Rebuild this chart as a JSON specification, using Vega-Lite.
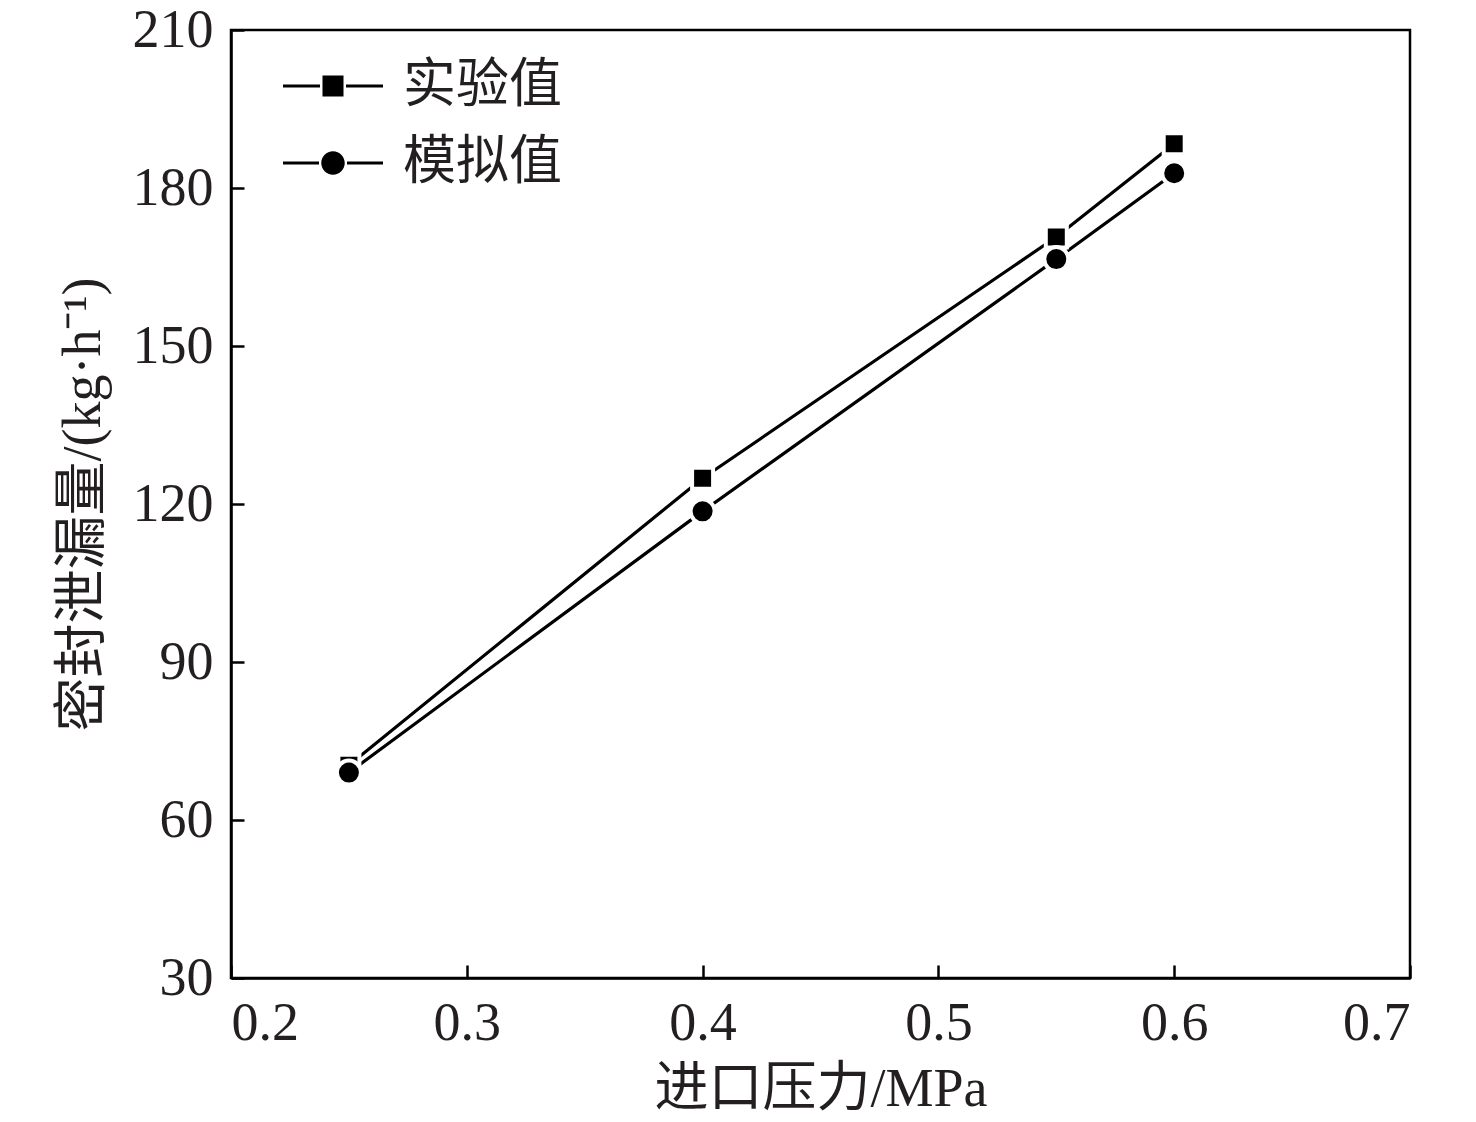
{
  "$schema": "https://vega.github.io/schema/vega-lite/v6.json",
  "width": 1179,
  "height": 948,
  "autosize": {"type": "none"},
  "padding": {"left": 231, "top": 30, "right": 66, "bottom": 144},
  "background": "white",
  "config": {
    "font": "Liberation Serif",
    "view": {"stroke": "black", "strokeWidth": 2.5},
    "axis": {
      "labelFont": "Liberation Serif",
      "titleFont": "Liberation Serif, Noto Sans CJK SC",
      "labelFontSize": 54,
      "titleFontSize": 54,
      "labelColor": "#231f20",
      "titleColor": "#231f20",
      "titleFontWeight": "normal",
      "domainColor": "black",
      "domainWidth": 2.5,
      "tickColor": "black",
      "tickWidth": 2.5,
      "tickSize": -13,
      "grid": false
    }
  },
  "data": {
    "values": [
      {"p": 0.25, "v": 70.4, "s": "实验值"},
      {"p": 0.4, "v": 124.9, "s": "实验值"},
      {"p": 0.55, "v": 170.7, "s": "实验值"},
      {"p": 0.6, "v": 188.4, "s": "实验值"},
      {"p": 0.25, "v": 69.0, "s": "模拟值"},
      {"p": 0.4, "v": 118.6, "s": "模拟值"},
      {"p": 0.55, "v": 166.5, "s": "模拟值"},
      {"p": 0.6, "v": 182.8, "s": "模拟值"}
    ]
  },
  "encoding": {
    "x": {
      "field": "p", "type": "quantitative",
      "scale": {"domain": [0.2, 0.7], "nice": false},
      "axis": {"values": [0.2, 0.3, 0.4, 0.5, 0.6, 0.7], "format": ".1f", "title": "进口压力/MPa", "labelPadding": 31, "titlePadding": 12}
    },
    "y": {
      "field": "v", "type": "quantitative",
      "scale": {"domain": [30, 210], "nice": false, "zero": false},
      "axis": {"values": [30, 60, 90, 120, 150, 180, 210], "title": "密封泄漏量/(kg·h⁻¹)", "labelPadding": 31, "titlePadding": 22}
    }
  },
  "layer": [
    {
      "mark": {"type": "line", "color": "black", "strokeWidth": 3.2},
      "encoding": {"detail": {"field": "s"}}
    },
    {
      "transform": [{"filter": "datum.s === '实验值'"}],
      "mark": {"type": "point", "shape": "square", "size": 441, "filled": true, "fill": "black", "stroke": "white", "strokeWidth": 4, "strokeOpacity": 1, "opacity": 1}
    },
    {
      "transform": [{"filter": "datum.s === '模拟值'"}],
      "mark": {"type": "point", "shape": "circle", "size": 576, "filled": true, "fill": "black", "stroke": "white", "strokeWidth": 4, "strokeOpacity": 1, "opacity": 1}
    },
    {
      "mark": {"type": "point", "filled": true, "color": "black", "opacity": 0},
      "encoding": {
        "shape": {
          "field": "s", "type": "nominal",
          "scale": {"domain": ["实验值", "模拟值"], "range": [
            "M-1,-0.03H-0.26V0.03H-1ZM0.26,-0.03H1V0.03H0.26ZM-0.21,-0.21H0.21V0.21H-0.21Z",
            "M-1,-0.03H-0.28V0.03H-1ZM0.28,-0.03H1V0.03H0.28ZM0.235,0C0.235,0.13 0.13,0.235 0,0.235C-0.13,0.235 -0.235,0.13 -0.235,0C-0.235,-0.13 -0.13,-0.235 0,-0.235C0.13,-0.235 0.235,-0.13 0.235,0Z"
          ]},
          "legend": {
            "title": null,
            "orient": "none",
            "legendX": 52,
            "legendY": 6,
            "symbolSize": 10000,
            "symbolOpacity": 1,
            "symbolFillColor": "black",
            "symbolStrokeColor": "black",
            "symbolStrokeWidth": 0,
            "labelFont": "Noto Sans CJK SC",
            "labelFontSize": 53,
            "labelColor": "#231f20",
            "labelOffset": 20,
            "rowPadding": 0
          }
        }
      }
    }
  ]
}
